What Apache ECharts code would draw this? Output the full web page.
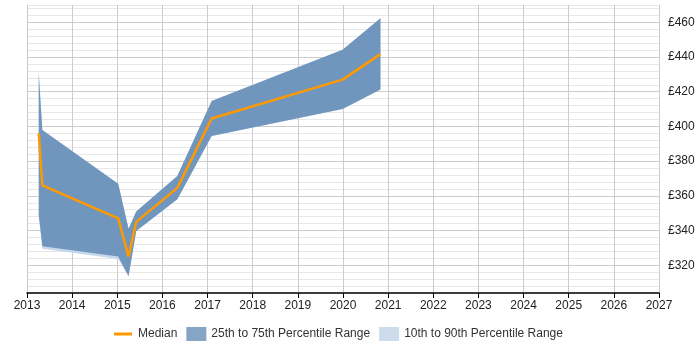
<!DOCTYPE html>
<html>
<head>
<meta charset="utf-8">
<script src="https://cdn.jsdelivr.net/npm/echarts@6/dist/echarts.min.js"></script>
<style>html,body{margin:0;padding:0;background:#fff}#c{width:700px;height:350px}</style>
</head>
<body>
<div id="c"></div>
<script>
// Data
var years  = [2013.26, 2013.34, 2015.02, 2015.25, 2015.42, 2016.33, 2017.09, 2019.99, 2020.83];
var median = [396, 366, 347, 325, 345, 364.6, 404.6, 427, 441.7];
var p75    = [430, 398, 367, 341, 351, 371.4, 414.6, 444.2, 462.3];
var p25    = [349, 331, 325, 313.7, 339.8, 358, 394.5, 410, 421.3];
var p90    = [433, 398, 367, 341, 351, 371.4, 414.6, 444.2, 462.3];
var p10    = [349, 329.5, 323.6, 313.7, 339.8, 358, 394.5, 410, 421.3];
var xTicks = {min: 2013, max: 2027, step: 1};
var yRange = {min: 304, max: 470, step: 4, labelStep: 20};

var FONT = 'Liberation Sans, Arial, sans-serif';

function bandSeries(name, upper, lower, color) {
  return {
    name: name,
    type: 'custom',
    data: years.map(function (x, i) { return [x, upper[i], lower[i]]; }),
    encode: { x: 0, y: [1, 2] },
    itemStyle: { color: color },
    renderItem: function (params, api) {
      if (params.dataIndex !== 0) return null;
      var pts = [];
      for (var i = 0; i < years.length; i++) pts.push(api.coord([years[i], upper[i]]));
      for (var j = years.length - 1; j >= 0; j--) pts.push(api.coord([years[j], lower[j]]));
      return { type: 'polygon', shape: { points: pts }, style: { fill: color, stroke: null } };
    },
    silent: true
  };
}

var chart = echarts.init(document.getElementById('c'), null, { renderer: 'canvas' });
chart.setOption({
  animation: false,
  textStyle: { fontFamily: FONT },
  grid: { left: 27, right: 41, top: 5, bottom: 57, containLabel: false },
  xAxis: {
    type: 'value', min: xTicks.min, max: xTicks.max, interval: xTicks.step,
    axisLine: { show: true, lineStyle: { color: '#000', width: 1.5 } },
    axisTick: { show: true, length: 5, lineStyle: { color: '#000' } },
    axisLabel: { color: '#222', fontSize: 12, fontFamily: FONT, margin: 7,
      formatter: function (v) { return String(v); } },
    splitLine: { show: true, lineStyle: { color: '#cccccc', width: 1 } }
  },
  yAxis: {
    type: 'value', position: 'right', min: yRange.min, max: yRange.max, interval: yRange.step,
    axisLine: { show: false }, axisTick: { show: false },
    axisLabel: { color: '#222', fontSize: 12, fontFamily: FONT, margin: 9,
      formatter: function (v) { return v % yRange.labelStep === 0 ? '£' + v : ''; } },
    splitLine: { show: true, lineStyle: { color: ['#e8e8e8', '#e8e8e8', '#e8e8e8', '#e8e8e8', '#cccccc'], width: 1 } }
  },
  legend: {
    left: 108, top: 322, itemWidth: 20, itemHeight: 14, itemGap: 9,
    textStyle: { color: '#333', fontSize: 12, fontFamily: FONT },
    data: [
      { name: 'Median', icon: 'path://M0,0 M20,14 M1,5.5 L19,5.5 L19,8.5 L1,8.5 Z', itemStyle: { color: '#ff9900' } },
      { name: '25th to 75th Percentile Range', icon: 'rect', itemStyle: { color: '#86a4c4' } },
      { name: '10th to 90th Percentile Range', icon: 'rect', itemStyle: { color: '#cddcec' } }
    ]
  },
  series: [
    bandSeries('10th to 90th Percentile Range', p90, p10, '#c6d8ec'),
    bandSeries('25th to 75th Percentile Range', p75, p25, '#7096bd'),
    {
      name: 'Median', type: 'line', z: 5,
      data: years.map(function (x, i) { return [x, median[i]]; }),
      symbol: 'none', showSymbol: false,
      lineStyle: { color: '#ff9900', width: 2.5 },
      itemStyle: { color: '#ff9900' }
    }
  ]
});
</script>
</body>
</html>
